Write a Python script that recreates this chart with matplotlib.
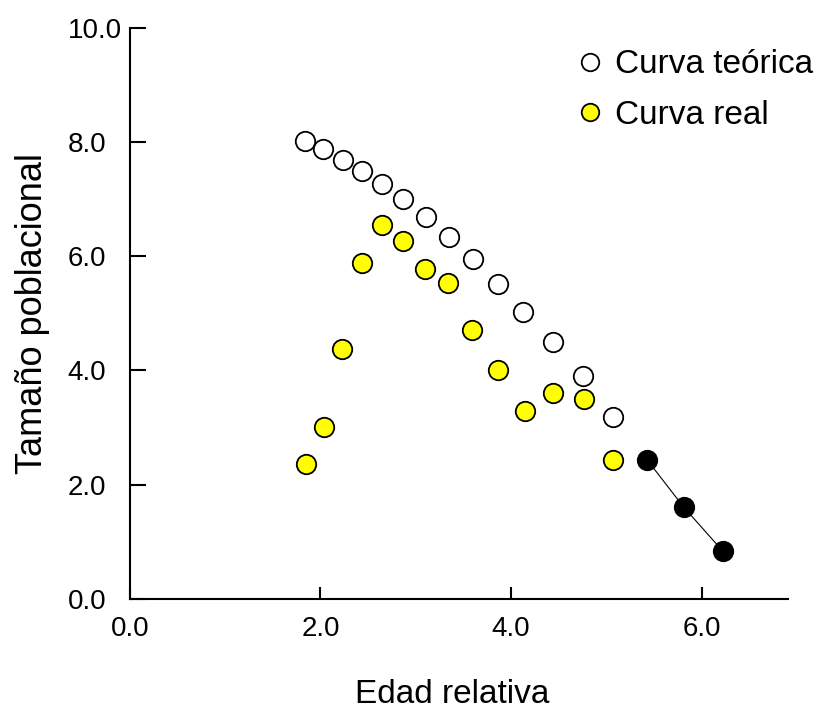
import matplotlib.pyplot as plt

plt.rcParams['font.family'] = ['Liberation Sans', 'DejaVu Sans']

# Curva teórica (white circles)
x_teorica = [1.84, 2.03, 2.24, 2.44, 2.65, 2.87, 3.11, 3.35, 3.60, 3.86, 4.13, 4.44, 4.75, 5.07]
y_teorica = [8.02, 7.88, 7.69, 7.50, 7.27, 7.01, 6.69, 6.34, 5.95, 5.52, 5.03, 4.50, 3.91, 3.19]

# Curva real (yellow)
x_real = [1.85, 2.04, 2.23, 2.44, 2.65, 2.87, 3.10, 3.34, 3.59, 3.86, 4.15, 4.44, 4.76, 5.07]
y_real = [2.36, 3.01, 4.38, 5.88, 6.55, 6.27, 5.78, 5.53, 4.71, 4.01, 3.29, 3.61, 3.50, 2.43]

# tail points (black, joined by a line)
x_cola = [5.43, 5.81, 6.22]
y_cola = [2.43, 1.61, 0.84]

xticks = [0.0, 2.0, 4.0, 6.0]
yticks = [0.0, 2.0, 4.0, 6.0, 8.0, 10.0]

fig = plt.figure(figsize=(8.17, 7.13), dpi=100)
ax = fig.add_axes([0.159, 0.160, 0.806, 0.801])

ms = 14
ax.plot(x_teorica, y_teorica, 'o', ms=ms, mfc='white', mec='black', mew=1.3,
        label='Curva teórica', clip_on=False)
ax.plot(x_real, y_real, 'o', ms=ms, mfc='#ffff00', mec='black', mew=1.3,
        label='Curva real', clip_on=False)
ax.plot(x_cola, y_cola, '-', color='black', lw=0.8)
ax.plot(x_cola, y_cola, 'o', ms=ms, mfc='black', mec='black', mew=1.3, clip_on=False)

ax.set_xlim(0, 6.91)
ax.set_ylim(0, 10)
ax.set_xticks(xticks)
ax.set_yticks(yticks)
ax.set_xticklabels([f'{t:.1f}' for t in xticks])
ax.set_yticklabels([f'{t:.1f}' for t in yticks])

for s in ['top', 'right']:
    ax.spines[s].set_visible(False)
for s in ['left', 'bottom']:
    ax.spines[s].set_linewidth(1.5)

# y tick labels are left aligned in the original
ax.tick_params(axis='y', direction='in', length=11.5, width=1.5, labelsize=20, pad=45)
ax.tick_params(axis='x', direction='in', length=8.5, width=1.5, labelsize=20, pad=12)
for lab in ax.get_yticklabels():
    lab.set_horizontalalignment('left')

ax.set_xlabel('Edad relativa', fontsize=24)
ax.set_ylabel('Tamaño poblacional', fontsize=26)
ax.xaxis.set_label_coords(0.49, -0.141)
ax.yaxis.set_label_coords(-0.122, 0.5)

ax.legend(loc='upper left', bbox_to_anchor=(0.706, 0.931), bbox_transform=fig.transFigure,
          frameon=False, fontsize=24, handlelength=0.8, handletextpad=0.36,
          labelspacing=0.58, borderpad=0, borderaxespad=0, markerscale=0.9)

plt.savefig('out.png', dpi=100)
